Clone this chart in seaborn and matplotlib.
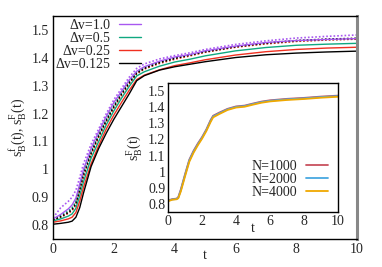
import numpy as np
import pandas as pd
import seaborn as sns
from matplotlib import pyplot as plt
from matplotlib.ticker import FormatStrFormatter

##### data

t_main = [0, 0.25, 0.5, 0.625, 0.75, 0.875, 1.0, 1.25, 1.5, 1.75, 2.0, 2.25, 2.5, 2.75,
          3.0, 3.5, 4.0, 4.5, 5.0, 6.0, 7.0, 8.0, 9.0, 10.0]

# dotted curves, s_B^f(t)
f_dv1 = [0.826, 0.862, 0.885, 0.900, 0.925, 0.970, 1.020, 1.090, 1.145, 1.200, 1.250, 1.290, 1.330, 1.362,
         1.378, 1.396, 1.408, 1.418, 1.430, 1.448, 1.461, 1.471, 1.477, 1.482]
f_dv05 = [0.820, 0.835, 0.850, 0.862, 0.885, 0.935, 0.990, 1.065, 1.125, 1.180, 1.230, 1.275, 1.315, 1.348,
          1.365, 1.385, 1.400, 1.410, 1.422, 1.440, 1.452, 1.460, 1.465, 1.468]
f_dv025 = [0.816, 0.828, 0.842, 0.852, 0.872, 0.920, 0.972, 1.052, 1.115, 1.170, 1.220, 1.265, 1.305, 1.342,
           1.360, 1.380, 1.395, 1.407, 1.420, 1.438, 1.450, 1.459, 1.464, 1.467]
f_dv0125 = [0.818, 0.830, 0.845, 0.856, 0.877, 0.927, 0.980, 1.058, 1.120, 1.175, 1.225, 1.270, 1.310, 1.345,
            1.362, 1.383, 1.398, 1.410, 1.422, 1.440, 1.453, 1.462, 1.467, 1.470]

# solid curves, s_B^F(t)
F_dv1 = [0.822, 0.838, 0.858, 0.872, 0.897, 0.947, 1.000, 1.075, 1.135, 1.190, 1.240, 1.280, 1.320, 1.352,
         1.368, 1.388, 1.403, 1.412, 1.425, 1.442, 1.455, 1.462, 1.466, 1.469]
F_dv05 = [0.815, 0.822, 0.832, 0.840, 0.860, 0.905, 0.955, 1.040, 1.100, 1.160, 1.210, 1.255, 1.297, 1.335,
          1.350, 1.370, 1.385, 1.395, 1.407, 1.425, 1.437, 1.445, 1.449, 1.452]
F_dv025 = [0.810, 0.815, 0.822, 0.828, 0.845, 0.885, 0.935, 1.020, 1.085, 1.145, 1.195, 1.240, 1.283, 1.322,
           1.338, 1.357, 1.372, 1.382, 1.393, 1.410, 1.422, 1.430, 1.435, 1.438]
F_dv0125 = [0.803, 0.806, 0.810, 0.814, 0.828, 0.862, 0.915, 1.010, 1.075, 1.130, 1.180, 1.225, 1.270, 1.318,
            1.336, 1.356, 1.368, 1.377, 1.386, 1.401, 1.411, 1.417, 1.421, 1.424]

dv_labels = ['\u0394v=1.0', '\u0394v=0.5', '\u0394v=0.25', '\u0394v=0.125']
dv_colors = ['#a858f0', '#10a880', '#f03020', '#000000']

# inset, s_B^F(t) for several N
t_inset = [0, 0.25, 0.5, 0.6, 0.75, 1.0, 1.25, 1.5, 1.75, 2.0, 2.25, 2.5, 2.65,
           3.0, 3.5, 4.0, 4.5, 5.0, 5.5, 6.0, 7.0, 8.0, 9.0, 10.0]
N1000 = [0.822, 0.830, 0.833, 0.842, 0.890, 0.985, 1.075, 1.130, 1.175, 1.215, 1.262, 1.320, 1.347,
         1.366, 1.390, 1.405, 1.410, 1.423, 1.435, 1.443, 1.452, 1.458, 1.466, 1.472]
N2000 = [0.820, 0.828, 0.831, 0.839, 0.885, 0.980, 1.070, 1.125, 1.170, 1.211, 1.258, 1.315, 1.343,
         1.362, 1.387, 1.402, 1.407, 1.420, 1.432, 1.440, 1.449, 1.455, 1.463, 1.469]
N4000 = [0.817, 0.826, 0.829, 0.835, 0.878, 0.972, 1.062, 1.118, 1.164, 1.205, 1.252, 1.308, 1.337,
         1.357, 1.383, 1.398, 1.403, 1.416, 1.428, 1.436, 1.445, 1.451, 1.459, 1.465]
N_labels = ['N=1000', 'N=2000', 'N=4000']
N_colors = ['#c8505e', '#48a8e0', '#f0a800']

##### figure

sns.set_style('white')
plt.rcParams['font.family'] = ['Liberation Serif', 'DejaVu Serif']
plt.rcParams['mathtext.fontset'] = 'custom'
plt.rcParams['mathtext.rm'] = 'Liberation Serif'

fig = plt.figure(figsize=(3.82, 2.67), dpi=100)
ax = fig.add_axes([0.139, 0.105, 0.796, 0.835])

f_curves = [f_dv1, f_dv05, f_dv025, f_dv0125]
F_curves = [F_dv1, F_dv05, F_dv025, F_dv0125]
for vals, col in zip(f_curves, dv_colors):
    sns.lineplot(x=t_main, y=vals, ax=ax, color=col, linestyle=(0, (1, 1.2)), lw=1.2)
for vals, col, lab in zip(F_curves, dv_colors, dv_labels):
    sns.lineplot(x=t_main, y=vals, ax=ax, color=col, lw=1.0, label=lab)

ax.set_xlim(0, 10)
ax.set_ylim(0.75, 1.55)
ax.set_xticks([0, 2, 4, 6, 8, 10])
ax.set_yticks([0.8, 0.9, 1.0, 1.1, 1.2, 1.3, 1.4, 1.5])
ax.yaxis.set_major_formatter(FormatStrFormatter('%g'))
ax.tick_params(direction='in', length=4, color='#999999', labelsize=10, pad=3)
for s in ['left', 'bottom', 'top']:
    ax.spines[s].set_color('black')
    ax.spines[s].set_linewidth(1.0)
ax.spines['right'].set_color('#888888')
ax.spines['right'].set_linewidth(2.2)
ax.set_xlabel('t', fontsize=10, labelpad=-5)
ax.set_ylabel(r'$\mathrm{s}_\mathrm{B}^\mathrm{f}\mathrm{(t)}$, $\mathrm{s}_\mathrm{B}^\mathrm{F}\mathrm{(t)}$',
              fontsize=10, labelpad=2)
ax.legend(loc='upper left', bbox_to_anchor=(-0.02, 1.025), frameon=False, markerfirst=False,
          fontsize=10, handlelength=1.6, handletextpad=0.6, labelspacing=0.0, borderaxespad=0.2)

##### inset

ins = fig.add_axes([0.44, 0.206, 0.445, 0.483])
for vals, col, lab in zip([N1000, N2000, N4000], N_colors, N_labels):
    sns.lineplot(x=t_inset, y=vals, ax=ins, color=col, lw=1.3, label=lab)
ins.set_xlim(0, 10)
ins.set_ylim(0.75, 1.55)
ins.set_xticks([0, 2, 4, 6, 8, 10])
ins.set_yticks([0.8, 0.9, 1.0, 1.1, 1.2, 1.3, 1.4, 1.5])
ins.yaxis.set_major_formatter(FormatStrFormatter('%g'))
ins.tick_params(direction='in', length=4, color='#999999', labelsize=10, pad=2)
for s in ins.spines.values():
    s.set_color('black')
    s.set_linewidth(1.0)
ins.set_xlabel('t', fontsize=10, labelpad=-4)
ins.set_ylabel(r'$\mathrm{s}_\mathrm{B}^\mathrm{F}\mathrm{(t)}$', fontsize=10, labelpad=2)
ins.legend(loc='lower right', bbox_to_anchor=(0.99, 0.04), frameon=False, markerfirst=False,
           fontsize=10, handlelength=1.6, handletextpad=0.6, labelspacing=0.0, borderaxespad=0.2)

fig.savefig('out.png', dpi=100)
